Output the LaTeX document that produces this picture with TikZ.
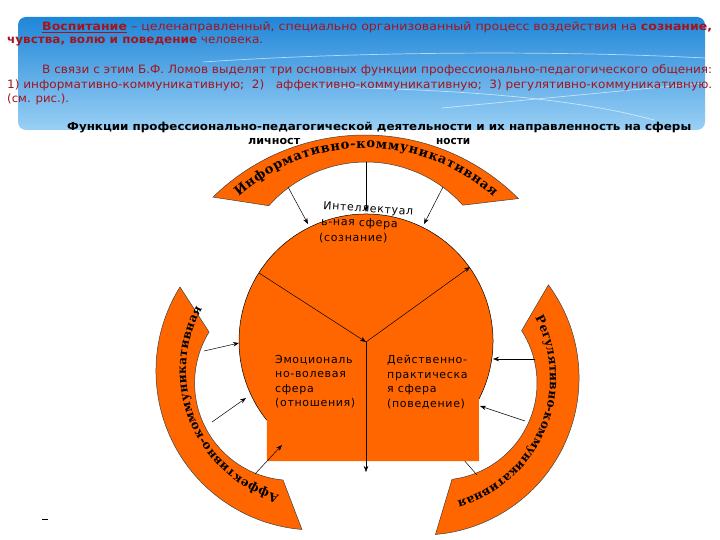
\documentclass[tikz,border=0pt]{standalone}
\usepackage{fontspec}
\setmainfont{DejaVu Sans}
\newfontfamily\lblfont[LetterSpace=6]{DejaVu Sans}
\newfontfamily\arcfont{DejaVu Serif}
\usepackage{graphicx}
\usetikzlibrary{decorations.text,arrows.meta}
\definecolor{org}{HTML}{FF6600}
\definecolor{txtred}{HTML}{A3141C}
\definecolor{bluetop}{HTML}{1F86D8}
\definecolor{bluebot}{HTML}{9AD0F5}
\tikzset{
  band/.style={fill=org, draw=black!75, line width=0.5pt},
  conn/.style={draw=black, line width=0.5pt, -{Stealth[length=6pt,width=4.5pt]}},
  plain/.style={draw=black, line width=0.5pt},
  hdr/.style={anchor=base west, inner sep=0pt, font=\fontsize{11.5}{13}\selectfont, text=txtred},
  ttl/.style={anchor=base west, inner sep=0pt, font=\bfseries\fontsize{11}{13}\selectfont, text=black},
  lbl/.style={anchor=base west, inner sep=0pt, font=\lblfont\fontsize{11}{14.5}\selectfont, text=black},
  wave/.style={draw=white, opacity=0.6, line width=0.7pt},
}
\newcommand{\arcfmt}{\arcfont\bfseries\fontsize{13}{13}\selectfont}
\newcommand{\arcfmts}{\arcfont\bfseries\fontsize{12}{12}\selectfont}
\begin{document}
\begin{tikzpicture}[x=1pt,y=-1pt]
\useasboundingbox (0,0) rectangle (720,540);

% header box
\shade[top color=bluetop, bottom color=bluebot, rounded corners=8pt] (18,17) rectangle (705,130);
\draw[wave] (203,62) .. controls (350,52) and (550,50) .. (705,58);
\draw[wave] (442,108) -- (705,83);
\draw[wave] (322,87) .. controls (480,90) and (580,100) .. (654,120);

\node[hdr] (l1) at (42,31) {\resizebox{670pt}{\height}{\textbf{\underline{Воспитание}} – целенаправленный, специально организованный процесс воздействия на \textbf{сознание,}}};
\node[hdr] (l2) at (7,44) {\resizebox{256pt}{\height}{\textbf{чувства, волю и поведение} человека.}};
\node[hdr] (l3) at (42,74) {\resizebox{670pt}{\height}{В связи с этим Б.Ф. Ломов выделят три основных функции профессионально-педагогического общения:}};
\node[hdr] (l4) at (7,89) {\resizebox{705pt}{\height}{1) информативно-коммуникативную;\ \ 2)\ \ \ аффективно-коммуникативную;\ \ 3) регулятивно-коммуникативную.}};
\node[hdr] (l5) at (7,103) {\resizebox{62pt}{\height}{(см. рис.).}};
\node[ttl] (t1) at (67,131) {\resizebox{624pt}{\height}{Функции профессионально-педагогической деятельности и их направленность на сферы}};
\node[ttl] (t2a) at (248,145) {\resizebox{52pt}{\height}{личност}};
\node[ttl] (t2b) at (436,145) {\resizebox{34pt}{\height}{ности}};

% bands
\filldraw[band] (213,197.1) arc[start angle=-134.44, end angle=-45, radius=217]
   -- (462.8,205.2) arc[start angle=-41.9, end angle=-138.4, radius=130] -- cycle;
\filldraw[band] (180,287) arc[start angle=-148.1, end angle=-265.3, radius=159]
   -- (283,480) arc[start angle=95.3, end angle=211.6, radius=97.4] -- cycle;
\filldraw[band] (548.4,284.9) arc[start angle=-36.4, end angle=85.1, radius=157]
   -- (452,479.3) arc[start angle=82.9, end angle=-32.7, radius=97] -- cycle;

% band texts
\path[decorate, decoration={text along path, text align=fit to path,
   text={|\arcfmt|Информативно-коммуникативная}}]
   (366,338) ++(-132:190) arc[start angle=-132, end angle=-48, radius=190];
\path[decorate, decoration={text along path, text align=fit to path,
   text={|\arcfmts|Аффективно-коммуникативная}}]
   (315,371) ++(106:129) arc[start angle=106, end angle=209, radius=129];
\path[decorate, decoration={text along path, text align=fit to path,
   text={|\arcfmts|Регулятивно-коммуникативная}}]
   (422,378) ++(-28:128) arc[start angle=-28, end angle=74, radius=128];

% hidden-head connector
\draw[plain] (477,475) -- (463,459);

% central shape: circle united with a rectangle, cut flat at the bottom
\fill[org] (366,341) ++(27.2:127) arc[start angle=27.2, end angle=-218.6, radius=127]
   -- (267,461) -- (479,461) -- cycle;
\draw[plain] (366,341) ++(27.2:127) arc[start angle=27.2, end angle=-218.6, radius=127];

\coordinate (c) at (366,342);
\coordinate (ul) at (259,273);
\coordinate (ur) at (470,267);
\coordinate (bt) at (366,472);
\draw[conn] (ul) -- (c);
\draw[conn] (c) -- (ur);
\draw[conn] (c) -- (bt);

% connectors bands -> circle
\draw[conn] (288,187) -- (308,224);
\draw[conn] (366,162) -- (366,212);
\draw[conn] (443,187) -- (424,224);
\draw[conn] (204,351) -- (239,343);
\draw[conn] (212,422) -- (246,398);
\draw[conn] (255,474) -- (282,445);
\draw[conn] (535,359) -- (493,359);
\draw[conn] (525,421) -- (480,406);

% labels
\node[lbl, rotate=-4] (s1a) at (323,209) {Интеллектуал};
\node[lbl, rotate=-2] (s1b) at (321,225) {ь-ная сфера};
\node[lbl] (s1c) at (319,241) {(сознание)};
\node[lbl, align=left, anchor=north west] (s2) at (275,355) {Эмоциональ\\но-волевая\\сфера\\(отношения)};
\node[lbl, align=left, anchor=north west] (s3) at (387,355) {Действенно-\\практическа\\я сфера\\(поведение)};

\draw[line width=0.8pt] (42,519) -- (48,519);
\end{tikzpicture}
\end{document}
